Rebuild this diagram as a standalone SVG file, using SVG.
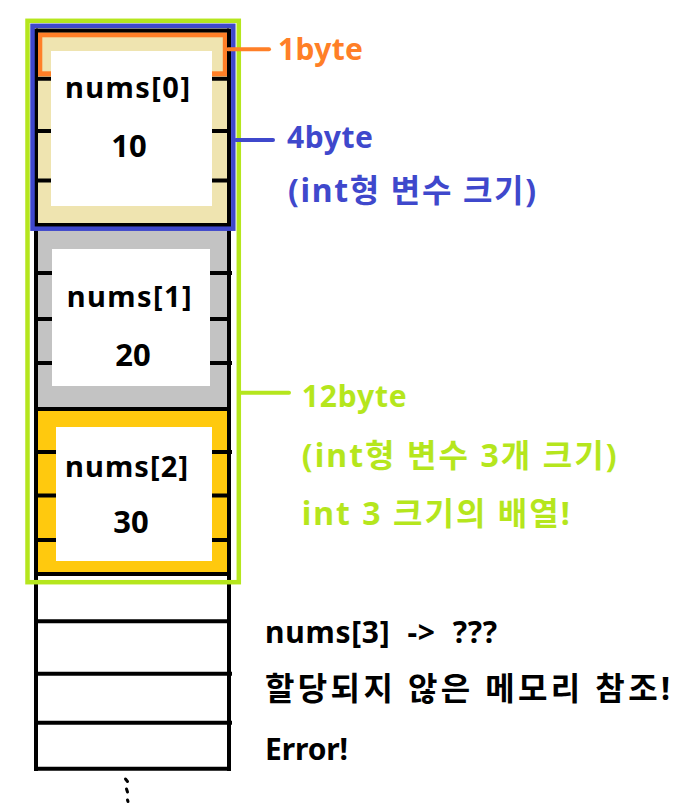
<svg xmlns="http://www.w3.org/2000/svg" width="683" height="808" viewBox="0 0 683 808">
<style>
.blk{stroke:#000;stroke-width:4;fill:none}
.t{font-family:"Noto Sans","Noto Sans CJK KR",sans-serif;font-weight:bold}
.nm{font-size:29px;fill:#000}
.val{font-size:31px;fill:#000;text-anchor:middle}
.lbl{font-size:30px;white-space:pre}
.ko{font-size:32px}
</style>
<rect width="683" height="808" fill="#fff"/>
<g id="block0">
<rect x="36" y="30.5" width="193" height="194.5" fill="#efe4b0"/>
<line class="blk" x1="36" y1="78.7" x2="229" y2="78.7"/>
<line class="blk" x1="36" y1="131" x2="229" y2="131"/>
<line class="blk" x1="36" y1="180.5" x2="229" y2="180.5"/>
<rect x="39.8" y="34.8" width="185.5" height="39" fill="none" stroke="#ff7f27" stroke-width="5"/>
<rect x="51" y="51" width="161" height="155" fill="#fff"/>
<text class="t nm" x="65" y="98" textLength="125">nums[0]</text>
<text class="t val" x="129" y="157">10</text>
</g>
<g id="block1">
<rect x="36" y="229" width="193" height="180" fill="#c3c3c3"/>
<line class="blk" x1="36" y1="273" x2="232" y2="273"/>
<line class="blk" x1="36" y1="319" x2="229" y2="319"/>
<line class="blk" x1="36" y1="363" x2="232" y2="363"/>
<rect x="52" y="249" width="158" height="137" fill="#fff"/>
<text class="t nm" x="66.7" y="307" textLength="125">nums[1]</text>
<text class="t val" x="133" y="366">20</text>
</g>
<g id="block2">
<rect x="36" y="409" width="193" height="165" fill="#ffc90e"/>
<line class="blk" x1="36" y1="452" x2="232" y2="452"/>
<line class="blk" x1="36" y1="495.5" x2="229" y2="495.5"/>
<line class="blk" x1="36" y1="540" x2="229" y2="540"/>
<rect x="56" y="427" width="156" height="134" fill="#fff"/>
<text class="t nm" x="65" y="477" textLength="123">nums[2]</text>
<text class="t val" x="131" y="533">30</text>
</g>
<g id="memory">
<line class="blk" x1="36" y1="28.5" x2="36" y2="771"/>
<line class="blk" x1="229" y1="28.5" x2="229" y2="771"/>
<line class="blk" x1="36" y1="30.5" x2="229" y2="30.5"/>
<line class="blk" x1="36" y1="225" x2="229" y2="225"/>
<line class="blk" x1="36" y1="409" x2="229" y2="409"/>
<line class="blk" x1="36" y1="574" x2="229" y2="574"/>
<line class="blk" x1="36" y1="621.3" x2="229" y2="621.3"/>
<line class="blk" x1="36" y1="673.7" x2="232" y2="673.7"/>
<line class="blk" x1="36" y1="722.7" x2="232" y2="722.7"/>
<line class="blk" x1="36" y1="768.7" x2="229" y2="768.7"/>
<g stroke="#000" stroke-width="3" stroke-linecap="round">
<line x1="125.5" y1="779" x2="127.5" y2="781.5"/>
<line x1="126.5" y1="789" x2="127.5" y2="792"/>
<line x1="127.5" y1="800" x2="128" y2="801.5"/>
</g>
</g>
<g id="brackets">
<rect x="32.5" y="25.8" width="200.8" height="202.9" fill="none" stroke="#3f48cc" stroke-width="4.5"/>
<rect x="27.5" y="20.8" width="211.3" height="561.4" fill="none" stroke="#b5e61d" stroke-width="4.5"/>
</g>
<g id="connectors" stroke-width="4" stroke-linecap="round">
<line x1="228" y1="49.3" x2="269" y2="49.3" stroke="#ff7f27"/>
<line x1="236" y1="140" x2="273" y2="140" stroke="#3f48cc"/>
<line x1="240" y1="392.7" x2="289" y2="392.7" stroke="#b5e61d"/>
</g>
<g id="labels">
<text class="t lbl" x="278" y="60" fill="#ff7f27" textLength="85">1byte</text>
<text class="t lbl" x="287" y="148" fill="#3f48cc" textLength="86">4byte</text>
<text class="t lbl ko" x="288" y="202" fill="#3f48cc" textLength="248">(int형 변수 크기)</text>
<text class="t lbl" x="301.7" y="407" fill="#b5e61d" textLength="105">12byte</text>
<text class="t lbl ko" x="301.7" y="467" fill="#b5e61d" textLength="315">(int형 변수 3개 크기)</text>
<text class="t lbl ko" x="301.7" y="525" fill="#b5e61d" textLength="268">int 3 크기의 배열!</text>
<text class="t lbl" x="265" y="643" fill="#000" textLength="232">nums[3]  -&gt;  ???</text>
<text class="t lbl ko" x="265" y="700" fill="#000" textLength="405">할당되지 않은 메모리 참조!</text>
<text class="t lbl" x="265" y="760" fill="#000" textLength="83">Error!</text>
</g>
</svg>
